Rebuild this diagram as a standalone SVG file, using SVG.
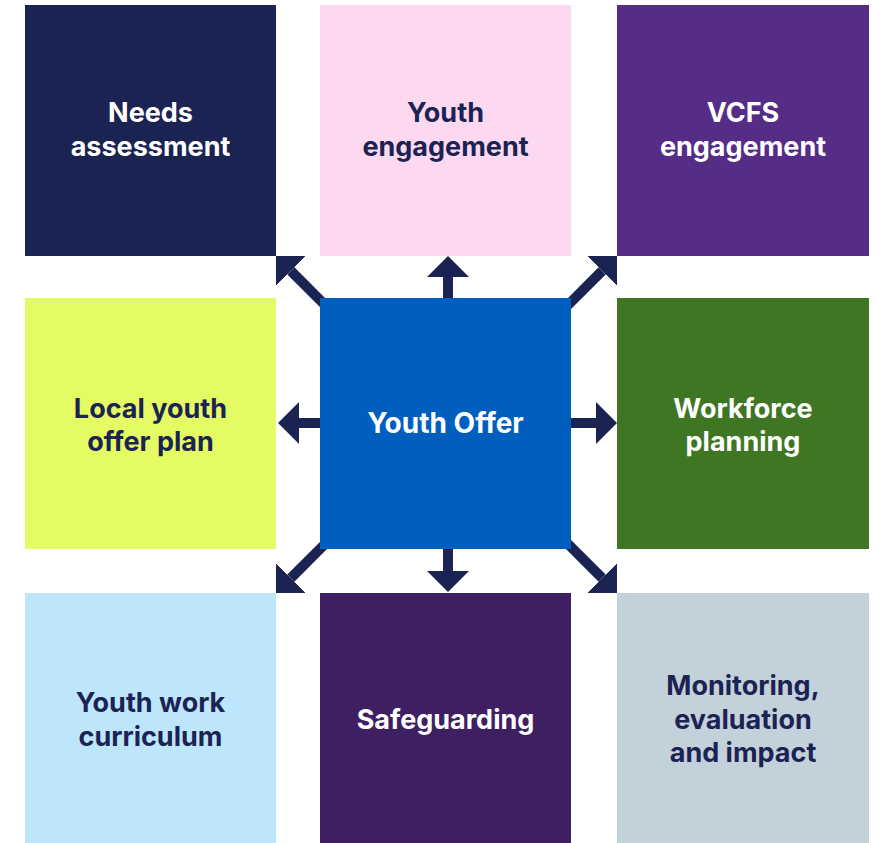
<svg xmlns="http://www.w3.org/2000/svg" width="879" height="843" viewBox="0 0 879 843">
  <style>
    .lbl { font-family: Inter, "Noto Sans", "Liberation Sans", sans-serif; font-weight: 700; font-size: 27px; text-anchor: middle; }
    .light { fill: #ffffff; }
    .dark { fill: #1b2353; }
    .conn { stroke: #1b2353; stroke-width: 10; fill: none; marker-end: url(#head); }
  </style>
  <defs>
    <marker id="head" markerUnits="userSpaceOnUse" viewBox="0 0 22 42" refX="0" refY="21" markerWidth="22" markerHeight="42" orient="auto">
      <path d="M0,0 L21,21 L0,42 Z" fill="#1b2353"/>
    </marker>
  </defs>
  <rect width="879" height="843" fill="#ffffff"/>
  <g id="connectors">
    <line class="conn" x1="448" y1="330" x2="448" y2="277"/>
    <line class="conn" x1="448" y1="520" x2="448" y2="571"/>
    <line class="conn" x1="350" y1="423" x2="299" y2="423"/>
    <line class="conn" x1="540" y1="423" x2="596" y2="423"/>
    <line class="conn" x1="335" y1="315" x2="290.85" y2="270.85"/>
    <line class="conn" x1="560" y1="313" x2="602.15" y2="270.85"/>
    <line class="conn" x1="335" y1="534" x2="290.85" y2="578.15"/>
    <line class="conn" x1="560" y1="536" x2="602.15" y2="578.15"/>
  </g>
  <g id="needs">
    <rect x="25" y="5" width="251" height="251" fill="#1b2353"/>
    <text class="lbl light" x="150.5" y="122">Needs</text>
    <text class="lbl light" x="150.5" y="156">assessment</text>
  </g>
  <g id="youth-engagement">
    <rect x="320" y="5" width="251" height="251" fill="#fdd8f1"/>
    <text class="lbl dark" x="445.5" y="122">Youth</text>
    <text class="lbl dark" x="445.5" y="156">engagement</text>
  </g>
  <g id="vcfs">
    <rect x="617" y="5" width="252" height="251" fill="#552d87"/>
    <text class="lbl light" x="743" y="122">VCFS</text>
    <text class="lbl light" x="743" y="156">engagement</text>
  </g>
  <g id="local-plan">
    <rect x="25" y="298" width="251" height="251" fill="#e5fb64"/>
    <text class="lbl dark" x="150.5" y="418">Local youth</text>
    <text class="lbl dark" x="150.5" y="451">offer plan</text>
  </g>
  <g id="youth-offer">
    <rect x="320" y="298" width="251" height="251" fill="#005ebf"/>
    <text class="lbl light" x="445.5" y="433" style="font-size:28px">Youth Offer</text>
  </g>
  <g id="workforce">
    <rect x="617" y="298" width="252" height="251" fill="#3f7624"/>
    <text class="lbl light" x="743" y="418">Workforce</text>
    <text class="lbl light" x="743" y="451">planning</text>
  </g>
  <g id="curriculum">
    <rect x="25" y="593" width="251" height="250" fill="#bde6fc"/>
    <text class="lbl dark" x="150.5" y="712">Youth work</text>
    <text class="lbl dark" x="150.5" y="746">curriculum</text>
  </g>
  <g id="safeguarding">
    <rect x="320" y="593" width="251" height="250" fill="#3e1f62"/>
    <text class="lbl light" x="445.5" y="729">Safeguarding</text>
  </g>
  <g id="monitoring">
    <rect x="617" y="593" width="252" height="250" fill="#c3d1db"/>
    <text class="lbl dark" x="743" y="695">Monitoring,</text>
    <text class="lbl dark" x="743" y="729">evaluation</text>
    <text class="lbl dark" x="743" y="762">and impact</text>
  </g>
</svg>
